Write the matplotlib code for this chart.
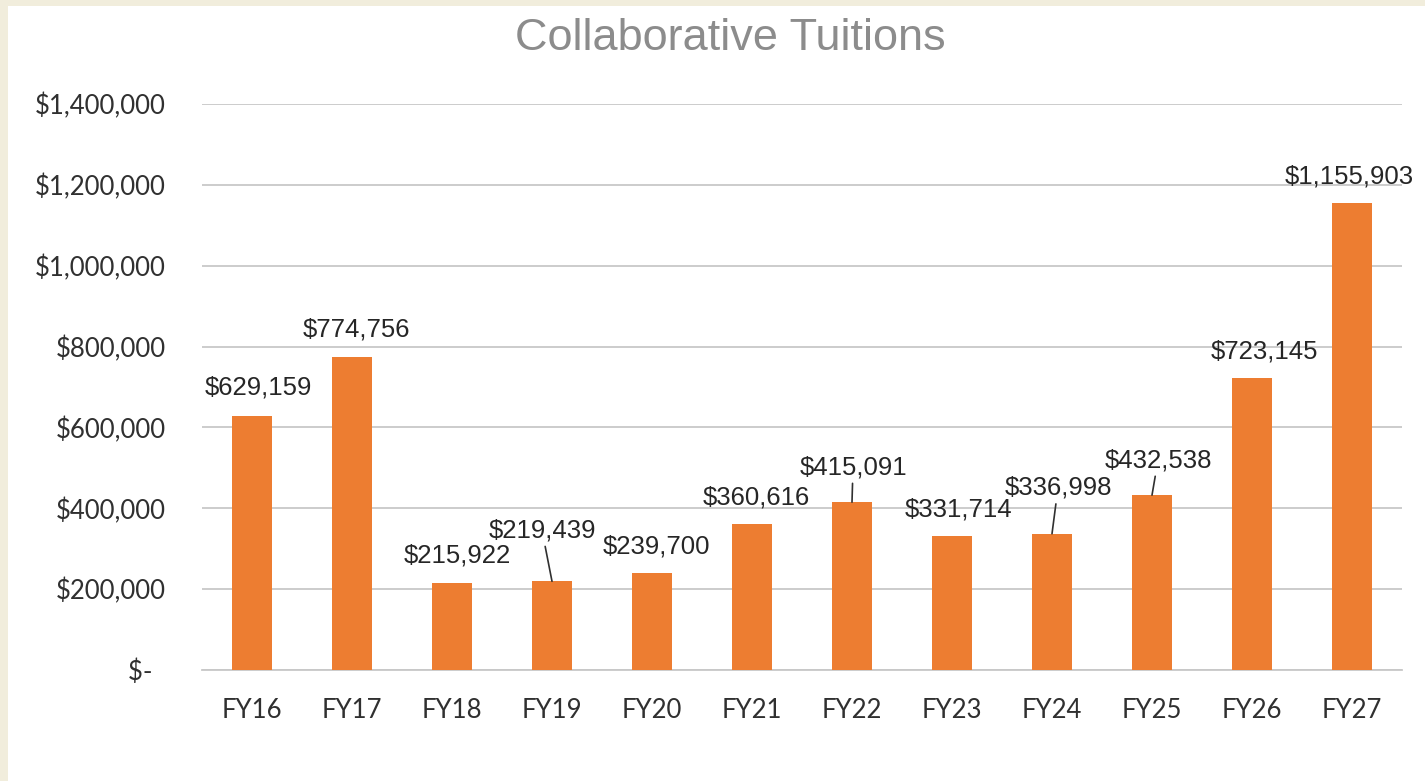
import matplotlib.pyplot as plt
from matplotlib.patches import Rectangle
from matplotlib.ticker import FuncFormatter

# Data tuition per tahun fiskal
tahun = ["FY16", "FY17", "FY18", "FY19", "FY20", "FY21",
         "FY22", "FY23", "FY24", "FY25", "FY26", "FY27"]
nilai = [629159, 774756, 215922, 219439, 239700, 360616,
         415091, 331714, 336998, 432538, 723145, 1155903]

# posisi label (offset dalam pixel dari puncak batang) dan garis penunjuk
geser_x = [6, 4, 5, -10, 4, 4, 1, 6, 6, 6, 12, -3]
geser_y = [28, 27, 27, 51, 27, 27, 35, 26, 46, 35, 26, 26]
pakai_garis = [False, False, False, True, False, False,
               True, False, True, True, False, False]

fig = plt.figure(figsize=(14.25, 7.81), dpi=100, facecolor='#f1eddc')
fig.patches.append(Rectangle((8 / 1425, 0), 1, 1 - 6 / 781, transform=fig.transFigure,
                             facecolor='white', edgecolor='none', zorder=-1))

ax = fig.add_axes([202 / 1425, 1 - 670 / 781, 1200 / 1425, 566 / 781])
ax.set_facecolor('none')
ax.set_zorder(1)

x = range(len(tahun))
ax.bar(x, nilai, width=0.4, color='#ed7d31', zorder=3)

ax.set_xlim(-0.5, len(tahun) - 0.5)
ax.set_ylim(0, 1400000)
ax.set_yticks(range(0, 1400001, 200000))
ax.yaxis.set_major_formatter(FuncFormatter(lambda v, p: "$-  " if v == 0 else f"${v:,.0f}"))
ax.set_xticks(list(x))
ax.set_xticklabels(tahun)

for lbl in ax.get_xticklabels() + ax.get_yticklabels():
    lbl.set_fontfamily('Lato')
    lbl.set_fontsize(18.5)
    lbl.set_color('#303030')
ax.tick_params(axis='both', length=0)
ax.tick_params(axis='y', pad=26)
ax.tick_params(axis='x', pad=20)

ax.grid(axis='y', color='#c8c8c8', linewidth=1.3, zorder=0)
for s in ['top', 'right', 'left']:
    ax.spines[s].set_visible(False)
ax.spines['bottom'].set_color('#c8c8c8')
ax.spines['bottom'].set_linewidth(1.3)

for i, v in enumerate(nilai):
    props = dict(arrowstyle='-', color='#303030', lw=1.2, shrinkA=1, shrinkB=0) if pakai_garis[i] else None
    ax.annotate(f"${v:,.0f}", xy=(i, v), xytext=(geser_x[i] * 0.72, geser_y[i] * 0.72),
                textcoords='offset points', ha='center', va='center',
                fontsize=18.5, family='Liberation Sans', color='#262626',
                arrowprops=props, zorder=4)

fig.text(730 / 1425, 1 - 39 / 781, "Collaborative Tuitions", ha='center', va='center',
         fontsize=32.5, family='Liberation Sans', color='#8c8c8c')

fig.savefig('out.png', dpi=100, facecolor=fig.get_facecolor())
